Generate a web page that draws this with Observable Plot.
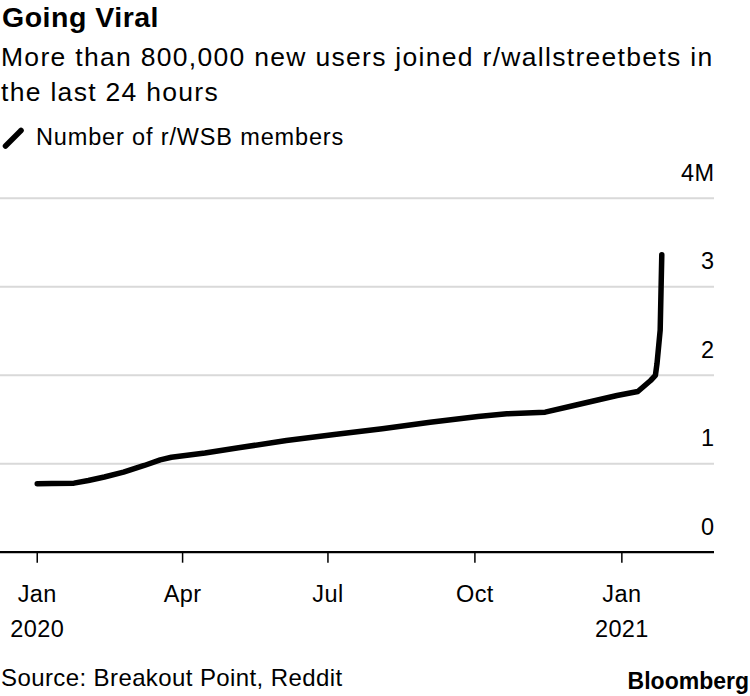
<!DOCTYPE html>
<html>
<head>
<meta charset="utf-8">
<script src="https://cdn.jsdelivr.net/npm/d3@7"></script>
<script src="https://cdn.jsdelivr.net/npm/@observablehq/plot@0.6"></script>
<style>
  html, body { margin: 0; padding: 0; background: #fff; }
  body { width: 750px; height: 696px; position: relative; overflow: hidden;
         font-family: "Liberation Sans", Arial, Helvetica, sans-serif; color: #000; }
  .abs { position: absolute; white-space: nowrap; line-height: 1; }
  #title { left: 2px; top: 3px; font-size: 28.5px; font-weight: bold; letter-spacing: 0.5px; }
  #subtitle { left: 1px; top: 40.1px; font-size: 26.5px; line-height: 34.8px; letter-spacing: 1.3px; }
  #legend { left: 2px; top: 126.1px; font-size: 23.5px; letter-spacing: 0.85px; }
  #legend svg { position: absolute; left: 0; top: 0; }
  #legend span { position: absolute; left: 34px; top: 0; }
  #chart { position: absolute; left: 0; top: 155px; }
  #source { left: 1px; top: 666.4px; font-size: 24px; letter-spacing: 0.4px; }
  #brand { right: 1px; top: 669.5px; font-size: 23px; font-weight: bold; letter-spacing: 0px; }
</style>
</head>
<body>
<div id="title" class="abs">Going Viral</div>
<div id="subtitle" class="abs">More than 800,000 new users joined r/wallstreetbets in<br>the last 24 hours</div>
<div id="legend" class="abs">
  <svg width="30" height="26"><line x1="3.5" y1="20" x2="19" y2="4.5" stroke="#000" stroke-width="5.5" stroke-linecap="round"/></svg>
  <span>Number of r/WSB members</span>
</div>
<div id="chart"></div>
<div id="source" class="abs">Source: Breakout Point, Reddit</div>
<div id="brand" class="abs">Bloomberg</div>
<script>
// Data (members in millions)
const dates = [
  "2020-01-01","2020-01-10","2020-01-24","2020-02-02","2020-02-12","2020-02-24",
  "2020-03-08","2020-03-18","2020-03-25","2020-04-15","2020-05-06","2020-06-05",
  "2020-07-05","2020-08-04","2020-09-03","2020-10-03","2020-10-21","2020-11-14",
  "2020-12-02","2020-12-29","2021-01-11","2021-01-19","2021-01-22","2021-01-23",
  "2021-01-25","2021-01-26"
];
const members = [
  0.773, 0.776, 0.78, 0.81, 0.85, 0.904,
  0.98, 1.044, 1.073, 1.12, 1.18, 1.262,
  1.33, 1.394, 1.469, 1.533, 1.564, 1.582,
  1.658, 1.771, 1.816, 1.94, 1.997, 2.13,
  2.51, 3.36
];
const yTicks = [0, 1, 2, 3, 4];
const yTickLabels = ["0", "1", "2", "3", "4M"];
const gridTicks = [1, 2, 3, 4];
const xTicks = ["2020-01-01", "2020-04-01", "2020-07-01", "2020-10-01", "2021-01-01"];
const xMonthLabels = ["Jan", "Apr", "Jul", "Oct", "Jan"];
const xYearLabels = ["2020", "", "", "", "2021"];
const xDomain = ["2019-12-09", "2021-02-28"];

const data = dates.map((d, i) => ({date: new Date(d), value: members[i]}));
const xTickDates = xTicks.map(d => new Date(d));

const chart = Plot.plot({
  width: 750,
  height: 500,
  marginTop: 42.7,
  marginBottom: 103.3,
  marginLeft: 0,
  marginRight: 36,
  style: {fontFamily: "'Liberation Sans', Arial, sans-serif", fontSize: "23.5px", color: "#000", background: "#fff", letterSpacing: "0.4px"},
  x: {type: "utc", domain: xDomain.map(d => new Date(d))},
  y: {domain: [0, 4], axis: null},
  marks: [
    Plot.ruleY(gridTicks, {y: d => d, stroke: "#d9d9d9", strokeWidth: 2}),
    Plot.axisX(xTickDates, {tickSize: 11, tickFormat: () => "", stroke: "#000", strokeWidth: 1.5}),
    Plot.ruleY([0], {y: d => d, stroke: "#000", strokeWidth: 2.2}),
    Plot.line(data, {x: "date", y: "value", stroke: "#000", strokeWidth: 5.5, strokeLinecap: "round", strokeLinejoin: "round"}),
    Plot.text(yTicks, {y: d => d, text: (d, i) => yTickLabels[i], frameAnchor: "right", textAnchor: "end", lineAnchor: "top", dy: -34, fontSize: 23.5, fill: "#000"}),
    Plot.text(xTickDates, {x: d => d, text: (d, i) => xMonthLabels[i], frameAnchor: "bottom", lineAnchor: "top", dy: 33.3, fontSize: 23.5, fill: "#000"}),
    Plot.text(xTickDates, {x: d => d, text: (d, i) => xYearLabels[i], frameAnchor: "bottom", lineAnchor: "top", dy: 68.3, fontSize: 23.5, fill: "#000"})
  ]
});
document.getElementById("chart").appendChild(chart);
</script>
</body>
</html>
